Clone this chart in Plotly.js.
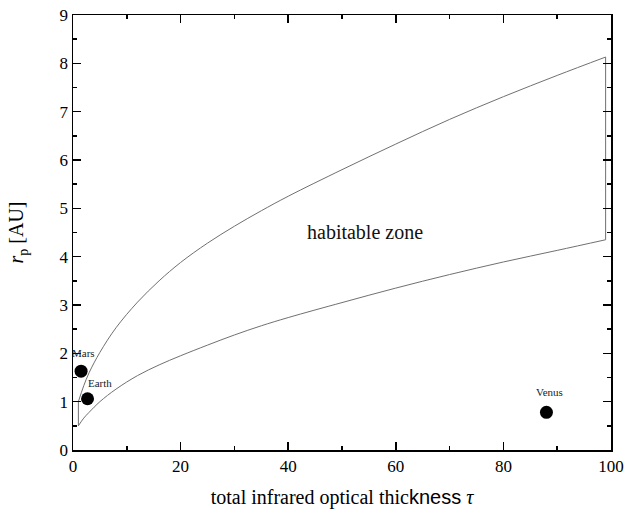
<!DOCTYPE html>
<html>
<head>
<meta charset="utf-8">
<script src="https://cdn.plot.ly/plotly-3.0.1.min.js"></script>
<style>html,body{margin:0;padding:0;background:#fff;}#chart{width:626px;height:510px;}</style>
</head>
<body>
<div id="chart"></div>
<script>
// Habitable zone boundaries
const tauUpper = [1, 2, 3, 5, 8, 12, 16, 20, 25, 30, 35, 40, 50, 60, 70, 80, 90, 99];
const rUpper   = [1.00, 1.33, 1.60, 2.02, 2.53, 3.06, 3.50, 3.88, 4.28, 4.63, 4.95, 5.25, 5.80, 6.33, 6.84, 7.31, 7.75, 8.13];
const tauLower = [1, 2, 3, 5, 8, 12, 16, 20, 25, 30, 35, 40, 50, 60, 70, 80, 90, 99];
const rLower   = [0.50, 0.66, 0.78, 1.00, 1.26, 1.54, 1.76, 1.95, 2.17, 2.38, 2.57, 2.74, 3.05, 3.35, 3.63, 3.89, 4.13, 4.35];

// Planets
const planetNames = ["Mars", "Earth", "Venus"];
const planetTau   = [1.5, 2.7, 88.0];
const planetR     = [1.63, 1.06, 0.78];
const labelTau    = [2.0, 5.0, 88.5];
const labelR      = [2.01, 1.39, 1.20];

const SERIF = 'Liberation Serif';
const lineStyle = {color: '#707070', width: 1};
const n = tauUpper.length;

const traces = [
  {x: tauLower, y: rLower, mode: 'lines', line: Object.assign({shape: 'spline', smoothing: 1}, lineStyle), hoverinfo: 'skip'},
  {x: tauUpper, y: rUpper, mode: 'lines', line: Object.assign({shape: 'spline', smoothing: 1}, lineStyle), hoverinfo: 'skip'},
  {x: [tauLower[0], tauUpper[0]], y: [rLower[0], rUpper[0]], mode: 'lines', line: lineStyle, hoverinfo: 'skip'},
  {x: [tauLower[n-1], tauUpper[n-1]], y: [rLower[n-1], rUpper[n-1]], mode: 'lines', line: lineStyle, hoverinfo: 'skip'},
  {x: planetTau, y: planetR, mode: 'markers', marker: {color: '#000', size: 13}, text: planetNames, hoverinfo: 'text'}
];

const annotations = planetNames.map((name, i) => ({
  x: labelTau[i], y: labelR[i], xref: 'x', yref: 'y', text: name, showarrow: false,
  font: {family: SERIF, size: 11, color: '#222'}
}));
annotations.push({
  x: 54.3, y: 4.51, xref: 'x', yref: 'y', text: 'habitable zone', showarrow: false,
  font: {family: SERIF, size: 20, color: '#111'}
});

const axisCommon = {
  showline: true, linecolor: '#000', linewidth: 1.5, mirror: 'ticks',
  ticks: 'inside', ticklen: 8, tickwidth: 1.5, tickcolor: '#000',
  showgrid: false, zeroline: false,
  tickfont: {family: SERIF, size: 17, color: '#000'}
};

const layout = {
  width: 626, height: 510,
  margin: {l: 73, r: 15, t: 15, b: 60},
  font: {family: SERIF, color: '#000'},
  paper_bgcolor: '#fff', plot_bgcolor: '#fff',
  showlegend: false,
  xaxis: Object.assign({}, axisCommon, {
    range: [0, 100], dtick: 20, tick0: 0,
    minor: {dtick: 10, ticks: 'inside', ticklen: 4, tickwidth: 1.5, tickcolor: '#000'},
    title: {text: "total infrared optical thic<span style='font-family:Liberation Sans'>kness</span> <i>τ</i>",
            font: {family: SERIF, size: 20, color: '#000'}, standoff: 15}
  }),
  yaxis: Object.assign({}, axisCommon, {
    range: [0, 9], dtick: 1, tick0: 0,
    minor: {dtick: 0.5, ticks: 'inside', ticklen: 4, tickwidth: 1.5, tickcolor: '#000'},
    title: {text: "<i>r</i><sub>p</sub> [AU]",
            font: {family: SERIF, size: 20, color: '#000'}, standoff: 30}
  }),
  annotations: annotations
};

Plotly.newPlot('chart', traces, layout, {displayModeBar: false, staticPlot: true});
</script>
</body>
</html>
